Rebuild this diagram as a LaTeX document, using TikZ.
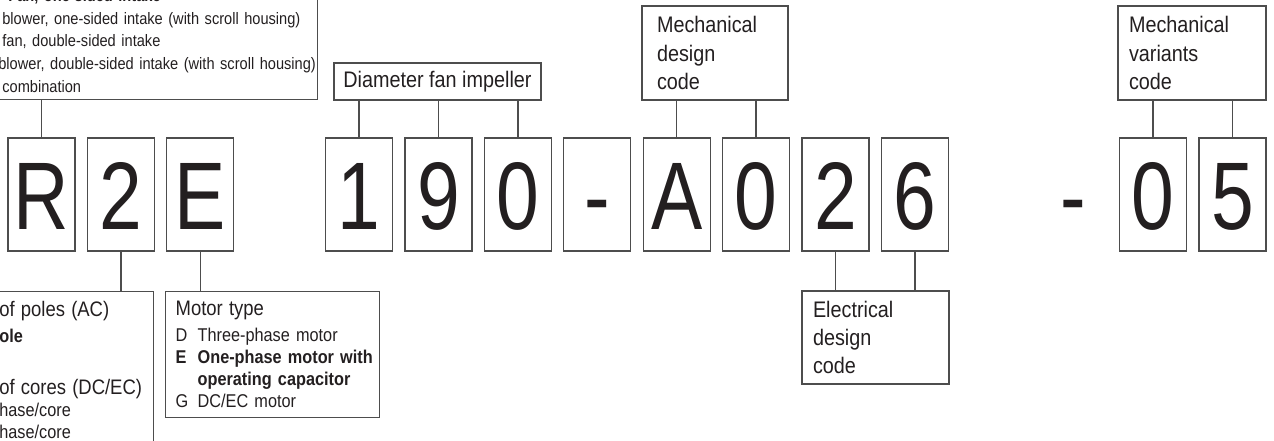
\documentclass[tikz,border=0pt]{standalone}
\usepackage{fontspec}
\setmainfont{Liberation Sans}[FakeStretch=0.88]
\newfontfamily\codefont{Liberation Sans}[FakeStretch=0.8]
\usetikzlibrary{positioning}
\definecolor{inkc}{HTML}{231F20}
\definecolor{framec}{HTML}{4D4D4D}
\tikzset{
  digit/.style={draw=framec, line width=1.3pt, minimum width=67pt, minimum height=113pt,
    inner sep=0pt, text height=69pt, text depth=0pt, text=inkc,
    font=\codefont\fontsize{96}{96}\selectfont},
  keybox/.style={draw=framec, line width=1.3pt, align=left, text=inkc, inner ysep=2pt},
  labeltext/.style={font=\fontsize{22.5}{28.3}\selectfont},
  listtext/.style={font=\fontsize{16.6}{22.6}\selectfont},
  itemtext/.style={font=\fontsize{18.5}{22}\selectfont},
  wire/.style={draw=framec, line width=1.3pt}
}
\newcommand{\boxtitle}[1]{{\fontsize{21}{22}\selectfont #1}}
\newcommand{\itemkey}[1]{\makebox[22pt][l]{#1}}

\begin{document}
\begin{tikzpicture}[x=1pt,y=-1pt]
  \useasboundingbox (0,0) rectangle (1274,441);

  % type code characters
  \foreach \s/\ch in {0/R,1/2,2/E,4/1,5/9,6/0,7/-,8/A,9/0,10/2,11/6,14/0,15/5}
    \node[digit] (c\s) at (41.5+79.4*\s,194.5) {\ch};
  \node[digit, draw=none] (c13) at (41.5+79.4*13,194.5) {-};

  % boxes above
  \node[keybox, listtext, anchor=south east, text width=309pt, inner xsep=6pt, inner ysep=7pt]
    (fantype) at (318,100)
    {\mbox{\hspace*{6pt}\textbf{Fan, one-sided intake}}\\
     \makebox[310pt][s]{blower, one-sided intake (with scroll housing)}\\
     \mbox{fan, double-sided intake}\\
     \mbox{\hspace*{-4pt}blower, double-sided intake (with scroll housing)}\\
     combination};
  \node[keybox, labeltext, minimum width=207pt, minimum height=37pt, inner xsep=0pt]
    (diam) at (437.5,81.5) {Diameter fan impeller};
  \node[keybox, labeltext, text width=116pt, inner xsep=15pt, minimum height=94pt]
    (mechdesign) at (715,53) {Mechanical\\design\\code};
  \node[keybox, labeltext, text width=126pt, inner xsep=11pt, minimum height=94pt]
    (mechvar) at (1192,53) {Mechanical\\variants\\code};

  % boxes below
  \node[keybox, itemtext, anchor=north east, text width=148pt, inner xsep=6pt, inner ysep=9.5pt]
    (poles) at (154,291)
    {\mbox{\boxtitle{of poles (AC)}}\\[4pt]
     \textbf{ole}\\
     \mbox{}\\[8pt]
     \mbox{\boxtitle{of cores (DC/EC)}}\\[0pt]
     hase/core\\
     hase/core};
  \node[keybox, itemtext, anchor=north west, text width=194pt, inner xsep=10pt, inner ysep=9.5pt]
    (motor) at (165,291)
    {\mbox{\boxtitle{Motor type}}\\[4pt]
     \mbox{\itemkey{D}Three-phase motor}\\
     \mbox{\textbf{\itemkey{E}One-phase motor with}}\\
     \mbox{\hspace*{22pt}\textbf{operating capacitor}}\\
     \mbox{\itemkey{G}DC/EC motor}};
  \node[keybox, labeltext, text width=125pt, inner xsep=11pt, minimum height=93pt]
    (elec) at (875.5,337.5) {Electrical\\design\\code};

  % connectors
  \draw[wire] (c0.north) -- (c0.north |- fantype.south);
  \foreach \s in {4,5,6}
    \draw[wire] (c\s.north) -- (c\s.north |- diam.south);
  \foreach \s in {8,9}
    \draw[wire] (c\s.north) -- (c\s.north |- mechdesign.south);
  \foreach \s in {14,15}
    \draw[wire] (c\s.north) -- (c\s.north |- mechvar.south);
  \draw[wire] (c1.south) -- (c1.south |- poles.north);
  \draw[wire] (c2.south) -- (c2.south |- motor.north);
  \foreach \s in {10,11}
    \draw[wire] (c\s.south) -- (c\s.south |- elec.north);
\end{tikzpicture}
\end{document}
